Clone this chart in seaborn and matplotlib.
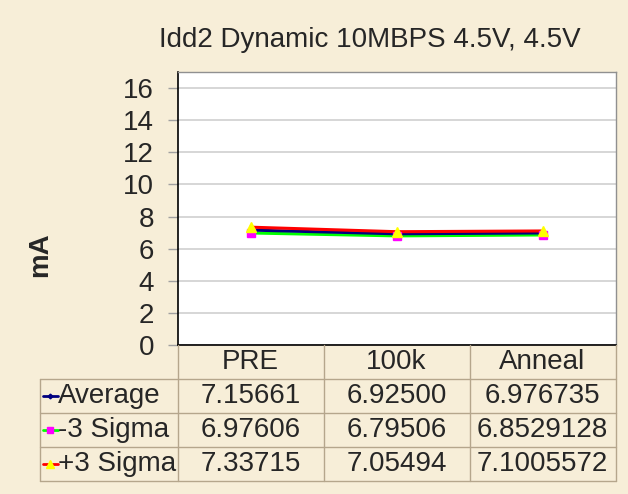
import matplotlib
matplotlib.use("Agg")
import matplotlib.pyplot as plt
import seaborn as sns
import pandas as pd
from matplotlib.lines import Line2D

categories = ["PRE", "100k", "Anneal"]
series_names = ["Average", "-3 Sigma", "+3 Sigma"]
average = ["7.15661", "6.92500", "6.976735"]
minus3 = ["6.97606", "6.79506", "6.8529128"]
plus3 = ["7.33715", "7.05494", "7.1005572"]
yticks = [0, 2, 4, 6, 8, 10, 12, 14, 16]
title = "Idd2 Dynamic 10MBPS 4.5V, 4.5V"
ylabel = "mA"

series_text = [average, minus3, plus3]
rows = []
for name, vals in zip(series_names, series_text):
    for i, (c, v) in enumerate(zip(categories, vals)):
        rows.append({"series": name, "x": i, "cat": c, "value": float(v)})
df = pd.DataFrame(rows)

sns.set_theme(style="white")
plt.rcParams["font.family"] = ["Liberation Sans", "DejaVu Sans"]

W, H = 628, 494
bg = "#f7eed8"
fs = 20
fig = plt.figure(figsize=(W / 100, H / 100), dpi=100, facecolor=bg)

L, R, T, B = 177.5, 615.5, 72, 345
ax = fig.add_axes([L / W, 1 - B / H, (R - L) / W, (B - T) / H])
ax.set_facecolor("white")

line_colors = {"Average": "#000080", "-3 Sigma": "#00ff00", "+3 Sigma": "#ff0000"}
marker_face = {"Average": "#000080", "-3 Sigma": "#ff00ff", "+3 Sigma": "#ffff00"}
markers = {"Average": "D", "-3 Sigma": "s", "+3 Sigma": "^"}
msize = {"Average": 3, "-3 Sigma": 6, "+3 Sigma": 7}

for name in ["-3 Sigma", "Average", "+3 Sigma"]:
    sub = df[df["series"] == name]
    sns.lineplot(data=sub, x="x", y="value", ax=ax, color=line_colors[name],
                 linewidth=2.2, legend=False, zorder=3)
for name in ["Average", "-3 Sigma", "+3 Sigma"]:
    sub = df[df["series"] == name]
    ax.plot(sub["x"], sub["value"], linestyle="none", marker=markers[name],
            markersize=msize[name], markerfacecolor=marker_face[name],
            markeredgecolor=marker_face[name], zorder=4)

ax.set_xlim(-0.5, 2.5)
ax.set_ylim(0, 17)
ax.set_yticks(yticks)
ax.set_yticklabels([str(t) for t in yticks], fontsize=fs)
ax.set_xticks([])
ax.set_xlabel("")
ax.set_ylabel("")
ax.yaxis.grid(True, color="#d0d0d0", linewidth=1.2)
ax.set_axisbelow(True)
ax.tick_params(axis="y", which="major", length=7, width=1, color="#a0a0a0",
               direction="out", pad=10, left=True)
for s in ["left", "bottom"]:
    ax.spines[s].set_color("black")
    ax.spines[s].set_linewidth(1.2)
for s in ["top", "right"]:
    ax.spines[s].set_color("#909090")
    ax.spines[s].set_linewidth(1)

fig.text(370 / W, 1 - 40 / H, title, ha="center", va="center", fontsize=fs)
fig.text(40 / W, 1 - 255 / H, ylabel, ha="center", va="center", fontsize=fs,
         fontweight="bold", rotation=90)

# data table
grid_c = "#b5a68c"
col_x = [L, 323.5, 469.5, R]
row_y = [B, 379, 413, 447, 481]
tl_x = 40
def fl(x0, y0, x1, y1):
    fig.add_artist(Line2D([x0 / W, x1 / W], [1 - y0 / H, 1 - y1 / H],
                          color=grid_c, linewidth=1, transform=fig.transFigure))
for x in col_x:
    fl(x, row_y[0], x, row_y[-1])
fl(tl_x, row_y[1], tl_x, row_y[-1])
for y in row_y[1:]:
    fl(tl_x, y, R, y)

for i, c in enumerate(categories):
    cx = (col_x[i] + col_x[i + 1]) / 2
    fig.text(cx / W, 1 - (row_y[0] + row_y[1]) / 2 / H, c, ha="center",
             va="center", fontsize=fs)

for r, (name, vals) in enumerate(zip(series_names, series_text)):
    cy = (row_y[r + 1] + row_y[r + 2]) / 2
    fig.add_artist(Line2D([43 / W, 58 / W], [1 - cy / H, 1 - cy / H],
                          color=line_colors[name], linewidth=2,
                          transform=fig.transFigure))
    fig.add_artist(Line2D([50 / W], [1 - cy / H], marker=markers[name],
                          markersize=msize[name] * 0.8, linestyle="none",
                          markerfacecolor=marker_face[name],
                          markeredgecolor=marker_face[name],
                          transform=fig.transFigure))
    fig.text(58 / W, 1 - cy / H, name, ha="left", va="center", fontsize=fs)
    for i, v in enumerate(vals):
        cx = (col_x[i] + col_x[i + 1]) / 2
        fig.text(cx / W, 1 - cy / H, v, ha="center", va="center", fontsize=fs)

fig.savefig("out.png", dpi=100, facecolor=bg)
